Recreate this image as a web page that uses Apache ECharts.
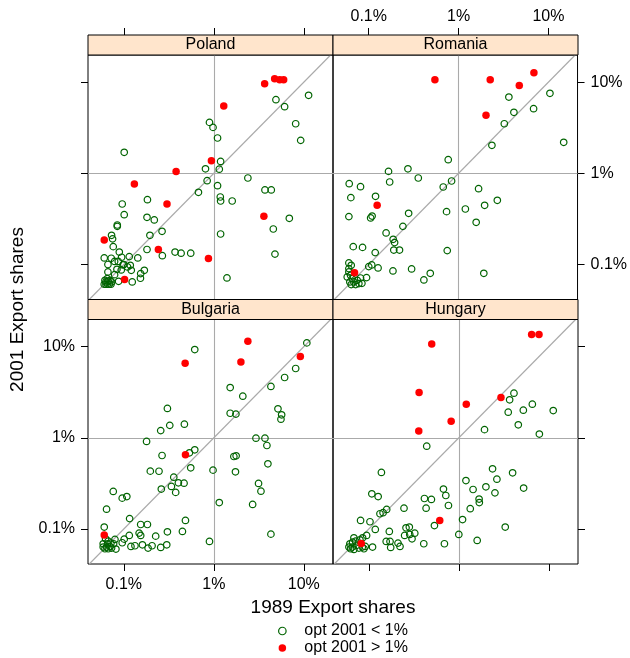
<!DOCTYPE html>
<html>
<head>
<meta charset="utf-8">
<script src="https://cdn.jsdelivr.net/npm/echarts@6.0.0/dist/echarts.min.js"></script>
<style>
html, body { margin: 0; padding: 0; background: #fff; }
#main { width: 630px; height: 658px; }
</style>
</head>
<body>
<div id="main"></div>
<script>
// export shares in percent: [1989, 2001]
const panels = ['Poland', 'Romania', 'Bulgaria', 'Hungary'];
const legendNames = ['opt 2001 < 1%', 'opt 2001 > 1%'];
const tickValues = [0.1, 1, 10];
const tickLabels = ['0.1%', '1%', '10%'];

const polandLow = [[11.3,7.17],[4.90,6.42],[6.12,5.38],[8.12,3.50],[9.23,2.30],[0.895,3.62],[0.98,3.19],[1.10,2.44],[0.101,1.70],[1.19,1.35],[0.808,1.12],[1.15,1.11],[2.39,0.889],[0.843,0.831],[1.10,0.732],[0.675,0.619],[3.70,0.657],[4.35,0.657],[1.18,0.550],[1.19,0.497],[1.60,0.497],[0.183,0.514],[0.096,0.461],[0.101,0.352],[0.181,0.329],[0.218,0.308],[0.0846,0.271],[0.0846,0.262],[0.266,0.231],[0.195,0.209],[0.0731,0.209],[0.075,0.191],[6.90,0.321],[4.58,0.245],[1.19,0.216],[0.0763,0.157],[0.181,0.146],[0.0891,0.137],[0.371,0.137],[0.433,0.133],[0.554,0.133],[0.268,0.125],[4.78,0.130],[0.115,0.122],[0.143,0.118],[0.0945,0.120],[0.0606,0.118],[0.079,0.108],[0.0868,0.108],[0.0666,0.100],[0.100,0.100],[0.118,0.098],[0.110,0.094],[0.121,0.0864],[0.0839,0.0886],[0.169,0.0864],[0.154,0.0794],[0.0666,0.0828],[0.079,0.0774],[0.124,0.0643],[0.153,0.0706],[1.40,0.0712],[0.0875,0.0654],[0.0725,0.117],[0.0978,0.0988],[0.0937,0.0871],[0.0606,0.0607],[0.0633,0.0607],[0.066,0.0607],[0.0689,0.0607],[0.072,0.0607],[0.0633,0.0643],[0.0671,0.0654],[0.0654,0.070],[0.0704,0.0671],[0.0731,0.0643],[0.0617,0.0671]];
const polandHigh = [[3.67,9.6],[4.74,10.9],[5.39,10.6],[5.97,10.6],[1.29,5.47],[0.94,1.37],[0.381,1.05],[0.131,0.764],[0.302,0.461],[3.60,0.338],[0.0606,0.186],[0.242,0.146],[0.872,0.116],[0.102,0.0683]];

const romaniaLow = [[10.4,7.54],[3.63,6.87],[6.84,5.12],[4.13,4.67],[3.23,3.50],[2.35,2.03],[14.8,2.19],[0.767,1.41],[0.166,1.05],[0.273,1.12],[0.356,0.889],[0.171,0.803],[0.836,0.824],[0.675,0.708],[0.0606,0.770],[0.081,0.714],[0.0632,0.541],[0.119,0.560],[1.67,0.679],[2.70,0.506],[1.95,0.446],[1.19,0.406],[1.57,0.290],[0.735,0.380],[0.278,0.364],[0.0601,0.335],[0.109,0.340],[0.105,0.324],[0.240,0.262],[0.156,0.222],[0.187,0.189],[0.194,0.174],[0.190,0.144],[0.220,0.144],[0.118,0.135],[0.0672,0.157],[0.0853,0.154],[0.748,0.142],[0.100,0.0948],[0.108,0.0988],[0.127,0.0917],[0.186,0.0849],[0.300,0.0893],[0.484,0.080],[0.411,0.0677],[1.91,0.080],[0.0839,0.0622],[0.0945,0.0718],[0.0601,0.104],[0.0638,0.098],[0.0601,0.0901],[0.0601,0.0828],[0.0627,0.0761],[0.0654,0.070],[0.0616,0.0643],[0.0683,0.0643],[0.0744,0.0671],[0.0638,0.0602],[0.0713,0.0602],[0.0776,0.0617],[0.0576,0.073],[0.081,0.0711]];
const romaniaHigh = [[0.545,10.6],[2.25,10.6],[4.74,9.22],[6.90,12.7],[2.02,4.33],[0.124,0.446],[0.0695,0.0814]];

const bulgariaLow = [[10.8,11.0],[0.614,9.30],[8.12,5.76],[6.12,4.59],[4.31,3.66],[1.52,3.56],[2.10,2.86],[5.16,2.08],[5.67,1.79],[5.57,1.60],[1.52,1.86],[1.76,1.82],[0.305,2.10],[0.324,1.37],[0.471,1.41],[0.257,1.20],[0.179,0.912],[2.94,0.99],[3.70,0.99],[3.89,0.824],[0.614,0.739],[0.536,0.685],[0.266,0.640],[1.67,0.624],[1.77,0.635],[3.99,0.519],[0.554,0.469],[0.98,0.442],[0.197,0.431],[0.246,0.43],[1.74,0.424],[0.359,0.370],[0.404,0.321],[0.467,0.318],[0.338,0.293],[0.377,0.252],[0.261,0.274],[3.14,0.316],[3.34,0.260],[0.0763,0.258],[0.096,0.218],[0.108,0.227],[1.15,0.195],[2.70,0.186],[0.0643,0.165],[0.116,0.130],[0.484,0.124],[0.154,0.112],[0.183,0.112],[0.0606,0.105],[0.305,0.0932],[0.448,0.094],[0.148,0.0901],[0.154,0.0849],[0.115,0.0849],[0.226,0.0835],[4.31,0.0878],[0.895,0.073],[0.101,0.0774],[0.096,0.0706],[0.120,0.0643],[0.133,0.0655],[0.161,0.0671],[0.186,0.0617],[0.206,0.0655],[0.257,0.0628],[0.300,0.0671],[0.0797,0.0768],[0.0770,0.0689],[0.0817,0.0602],[0.059,0.0633],[0.0617,0.0607],[0.0643,0.0633],[0.0671,0.0607],[0.0701,0.0643],[0.0731,0.0617],[0.059,0.0688],[0.066,0.0688],[0.072,0.070],[0.0627,0.0781],[0.0671,0.0736]];
const bulgariaHigh = [[2.39,11.5],[0.480,6.59],[2.0,6.81],[9.15,7.80],[0.484,0.651],[0.0606,0.0857]];

const hungaryLow = [[4.10,3.09],[3.67,2.61],[6.56,2.34],[5.21,2.01],[3.54,1.91],[11.2,1.99],[4.58,1.39],[1.93,1.23],[7.85,1.10],[0.440,0.810],[0.138,0.417],[2.37,0.457],[3.96,0.413],[2.65,0.352],[1.20,0.340],[2.0,0.290],[5.25,0.281],[1.44,0.271],[2.52,0.249],[0.675,0.274],[0.717,0.233],[0.415,0.216],[0.496,0.211],[0.108,0.243],[0.127,0.227],[1.68,0.213],[1.69,0.195],[0.767,0.181],[0.433,0.169],[0.246,0.169],[1.34,0.167],[0.158,0.164],[0.144,0.151],[0.133,0.147],[0.081,0.124],[0.103,0.120],[0.118,0.0988],[0.169,0.094],[0.536,0.109],[1.10,0.127],[3.28,0.105],[0.259,0.103],[0.282,0.105],[0.250,0.0849],[0.285,0.0871],[0.324,0.090],[0.302,0.0781],[1.0,0.0871],[1.60,0.0749],[0.692,0.0689],[0.408,0.0689],[0.156,0.073],[0.172,0.073],[0.175,0.0628],[0.211,0.070],[0.222,0.0643],[0.110,0.0633],[0.0945,0.0849],[0.0853,0.080],[0.0683,0.080],[0.0601,0.0633],[0.0627,0.0607],[0.0654,0.0633],[0.0683,0.0597],[0.0731,0.0661],[0.0776,0.0617],[0.0846,0.0633],[0.0883,0.0607],[0.0616,0.0688],[0.066,0.0718],[0.0713,0.0736],[0.0797,0.0761],[0.0913,0.0643]];
const hungaryHigh = [[6.44,13.6],[7.78,13.6],[0.500,10.7],[0.362,3.14],[2.94,2.77],[1.21,2.34],[0.822,1.52],[0.359,1.19],[0.614,0.124],[0.0824,0.0694]];

const lowData = [polandLow, romaniaLow, bulgariaLow, hungaryLow];
const highData = [polandHigh, romaniaHigh, bulgariaHigh, hungaryHigh];

const xRange = [0.04, 21.1];
const yRange = [0.0413, 19.86];

// layout (lattice style 2x2)
const colLeft = [88, 333];
const rowTop = [55, 319.5];
const W = 245, H = 244.5, stripH = 20;
const FONT = '"Liberation Sans", Arial, Helvetica, sans-serif';

// which outer side gets ticks / labels per panel
const xSide = [['top', false], ['top', true], ['bottom', true], ['bottom', false]];
const ySide = [['left', false], ['right', true], ['left', true], ['right', false]];

function tickFmt(v) {
	return tickLabels[Math.round(Math.log10(v)) + 1];
}

let grids = [], xAxes = [], yAxes = [], series = [], graphics = [];
panels.forEach(function (name, i) {
	let c = i % 2, r = Math.floor(i / 2);
	grids.push({ left: colLeft[c], top: rowTop[r], width: W, height: H, show: true, borderColor: '#000', borderWidth: 1, backgroundColor: 'transparent' });
	let xs = xSide[i], ys = ySide[i];
	xAxes.push({
		gridIndex: i, type: 'log', logBase: 10, min: xRange[0], max: xRange[1],
		position: xs[0], offset: xs[0] === 'top' ? stripH : 0,
		axisLine: { show: false },
		axisTick: { show: true, length: 7, customValues: tickValues, lineStyle: { color: '#000' } },
		axisLabel: { show: xs[1], customValues: tickValues, formatter: tickFmt, fontSize: 16, color: '#000', fontFamily: FONT, margin: xs[0] === 'top' ? 10 : 13 },
		splitLine: { show: false }, minorTick: { show: false }
	});
	yAxes.push({
		gridIndex: i, type: 'log', logBase: 10, min: yRange[0], max: yRange[1],
		position: ys[0],
		axisLine: { show: false },
		axisTick: { show: true, length: 7, customValues: tickValues, lineStyle: { color: '#000' } },
		axisLabel: { show: ys[1], customValues: tickValues, formatter: tickFmt, fontSize: 16, color: '#000', fontFamily: FONT, margin: 13 },
		splitLine: { show: false }, minorTick: { show: false }
	});
	series.push({
		type: 'scatter', name: legendNames[0], xAxisIndex: i, yAxisIndex: i,
		data: lowData[i], symbol: 'circle', symbolSize: 6.5, silent: true, z: 3,
		itemStyle: { color: 'rgba(0,0,0,0)', borderColor: '#006400', borderWidth: 1.2, opacity: 1 },
		markLine: {
			silent: true, symbol: 'none', animation: false, z: 1,
			label: { show: false },
			lineStyle: { color: '#aaaaaa', width: 1.1, type: 'solid' },
			data: [
				{ xAxis: 1 }, { yAxis: 1 },
				[{ coord: [yRange[0], yRange[0]] }, { coord: [yRange[1], yRange[1]] }]
			]
		}
	});
	series.push({
		type: 'scatter', name: legendNames[1], xAxisIndex: i, yAxisIndex: i,
		data: highData[i], symbol: 'circle', symbolSize: 7.5, silent: true, z: 4,
		itemStyle: { color: '#ff0000', opacity: 1 }
	});
	// strip
	graphics.push({
		type: 'rect', shape: { x: colLeft[c], y: rowTop[r] - stripH, width: W, height: stripH },
		style: { fill: '#ffe5cc', stroke: '#000', lineWidth: 1 }, z: 10
	});
	graphics.push({
		type: 'text', x: colLeft[c] + W / 2, y: rowTop[r] - stripH / 2, z: 11,
		style: { text: name, fontSize: 16, fontFamily: FONT, fill: '#000', align: 'center', verticalAlign: 'middle', textAlign: 'center', textVerticalAlign: 'middle' }
	});
});

graphics.push({
	type: 'text', x: 333, y: 608,
	style: { text: '1989 Export shares', fontSize: 19, fontFamily: FONT, fill: '#000', align: 'center', verticalAlign: 'middle', textAlign: 'center', textVerticalAlign: 'middle' }
});
graphics.push({
	type: 'text', x: 17.5, y: 309.5, rotation: Math.PI / 2,
	style: { text: '2001 Export shares', fontSize: 19, fontFamily: FONT, fill: '#000', align: 'center', verticalAlign: 'middle', textAlign: 'center', textVerticalAlign: 'middle' }
});

let option = {
	animation: false,
	backgroundColor: '#fff',
	textStyle: { fontFamily: FONT },
	grid: grids, xAxis: xAxes, yAxis: yAxes, series: series,
	legend: {
		orient: 'vertical', left: 278, top: 623, padding: 0, itemGap: 1,
		itemWidth: 34, itemHeight: 7.5, selectedMode: false,
		textStyle: { fontSize: 16, color: '#000', fontFamily: FONT, lineHeight: 16 },
		data: [
			{ name: legendNames[0], icon: 'circle', itemStyle: { color: 'rgba(0,0,0,0)', borderColor: '#006400', borderWidth: 1.2 } },
			{ name: legendNames[1], icon: 'circle', itemStyle: { color: '#ff0000' } }
		]
	},
	graphic: graphics
};

let myChart = echarts.init(document.getElementById('main'), null, { renderer: 'canvas' });
myChart.setOption(option);
</script>
</body>
</html>
